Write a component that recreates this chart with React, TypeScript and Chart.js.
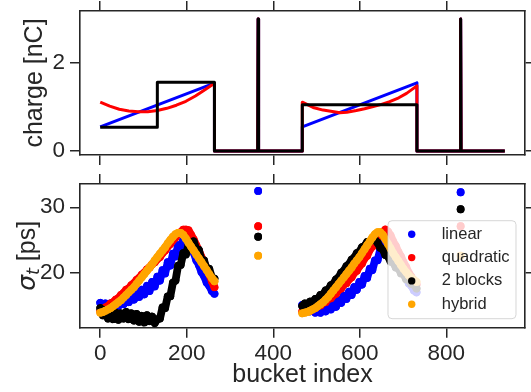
import React, { useEffect, useRef } from "react";
import { Chart, registerables } from "chart.js";

Chart.register(...registerables);

// ---------- data ----------
const xTicks = [0, 200, 400, 600, 800];
const chargeTicks = [0, 2];
const sigmaTicks = [20, 30];
const seriesLabels = ["linear", "quadratic", "2 blocks", "hybrid"];

// top panel: bunch charge [nC] along the bucket index
const linearX = [0, 264, 264, 364, 365, 366, 467, 467, 732, 732, 832, 833, 834, 935];
const linearQ = [0.55, 1.54, 0, 0, 3.0, 0, 0, 0.55, 1.55, 0, 0, 3.0, 0, 0];
const quadX = [0, 22, 44, 66, 88, 110, 132, 154, 176, 198, 220, 242, 264, 264, 364, 365, 366, 467, 467, 492, 515, 540, 554, 570, 592, 611, 631, 650, 669, 690, 708, 732, 732, 832, 833, 834, 935];
const quadQ = [1.11, 1.02, 0.95, 0.91, 0.89, 0.89, 0.92, 0.97, 1.04, 1.13, 1.25, 1.39, 1.54, 0, 0, 3.0, 0, 0, 1.11, 0.99, 0.93, 0.89, 0.87, 0.88, 0.92, 0.96, 1.01, 1.06, 1.12, 1.21, 1.31, 1.48, 0, 0, 3.0, 0, 0];
const blocksX = [0, 132, 132, 264, 264, 364, 365, 366, 467, 467, 732, 732, 832, 833, 834, 935];
const blocksQ = [0.54, 0.54, 1.56, 1.56, 0, 0, 3.0, 0, 0, 1.05, 1.05, 0, 0, 3.0, 0, 0];

// bottom panel: bunch length sigma_t [ps]
const block1Idx = [0, 6, 12, 18, 24, 30, 36, 42, 48, 54, 60, 66, 72, 78, 84, 90, 96, 102, 108, 114, 120, 126, 132, 138, 144, 150, 156, 162, 168, 174, 180, 186, 192, 198, 204, 210, 216, 222, 228, 234, 240, 246, 252, 258, 264];
const block2Idx = [467, 473, 479, 485, 491, 497, 503, 509, 515, 521, 527, 533, 539, 545, 551, 557, 563, 569, 575, 581, 587, 593, 599, 605, 611, 617, 623, 629, 635, 641, 647, 653, 659, 665, 671, 677, 683, 689, 695, 701, 707, 713, 719, 725, 731];
const spikeIdx = [365, 833];

const linear1 = [15.4, 14.6, 15.3, 14.5, 15.3, 14.6, 15.6, 14.9, 15.9, 15.2, 16.2, 15.5, 16.6, 15.9, 17.0, 16.3, 17.4, 16.7, 18.0, 17.2, 18.6, 17.9, 19.4, 18.8, 20.4, 19.9, 21.6, 21.1, 22.9, 22.5, 24.2, 23.9, 25.1, 25.0, 24.9, 23.9, 23.1, 21.9, 21.2, 20.1, 19.5, 18.5, 18.0, 17.2, 16.8];
const linear2 = [15.1, 14.4, 14.8, 14.1, 14.6, 13.9, 14.5, 13.9, 14.6, 14.1, 14.9, 14.4, 15.3, 14.8, 15.9, 15.4, 16.5, 16.0, 17.1, 16.6, 17.8, 17.4, 18.6, 18.2, 19.5, 19.2, 20.6, 20.4, 21.9, 21.9, 23.5, 23.8, 25.0, 24.9, 24.7, 23.5, 22.7, 21.6, 20.9, 19.9, 19.3, 18.4, 18.0, 17.3, 17.0];
const linearSpike = [32.5, 32.3];

const quad1 = [14.1, 14.3, 14.7, 14.9, 15.3, 15.5, 15.9, 16.1, 16.6, 16.9, 17.4, 17.6, 18.1, 18.4, 18.9, 19.2, 19.7, 20.0, 20.5, 20.8, 21.3, 21.6, 22.1, 22.4, 23.0, 23.4, 24.0, 24.4, 25.0, 25.4, 25.9, 26.2, 26.6, 26.6, 26.5, 25.8, 25.1, 24.2, 23.4, 22.4, 21.6, 20.6, 19.8, 18.7, 17.8];
const quad2 = [14.1, 14.0, 14.3, 14.2, 14.6, 14.6, 15.0, 15.0, 15.4, 15.5, 16.0, 16.1, 16.6, 16.8, 17.4, 17.6, 18.2, 18.4, 19.0, 19.3, 20.0, 20.3, 21.0, 21.4, 22.2, 22.6, 23.5, 24.0, 24.9, 25.3, 26.0, 26.2, 26.6, 26.3, 25.7, 24.8, 24.1, 23.2, 22.5, 21.6, 20.9, 20.0, 19.4, 18.7, 18.2];
const quadSpike = [27.1, 27.1];

const blocks1 = [14.6, 13.5, 14.3, 13.0, 14.0, 12.9, 13.9, 12.8, 13.8, 13.0, 14.0, 12.9, 13.8, 12.7, 13.7, 12.5, 13.4, 12.4, 13.5, 12.6, 13.3, 12.3, 12.9, 13.0, 14.7, 14.6, 16.4, 16.4, 18.5, 18.8, 21.1, 21.2, 23.0, 22.8, 24.2, 24.1, 24.8, 23.6, 23.5, 21.9, 21.9, 20.5, 20.6, 19.3, 19.1];
const blocks2 = [14.9, 15.3, 15.0, 15.6, 15.5, 16.0, 16.0, 16.6, 16.7, 17.3, 17.4, 18.1, 18.3, 19.0, 19.3, 20.0, 20.3, 21.0, 21.3, 22.0, 22.3, 23.0, 23.2, 23.9, 24.1, 24.7, 24.8, 25.2, 25.0, 24.6, 23.8, 23.6, 22.7, 22.5, 21.7, 21.6, 20.8, 20.7, 19.9, 19.8, 19.0, 18.9, 18.3, 18.2, 17.6];
const blocksSpike = [25.5, 29.7];

const hybrid1 = [13.9, 14.0, 14.2, 14.4, 14.6, 14.9, 15.2, 15.5, 15.8, 16.2, 16.6, 17.0, 17.4, 17.8, 18.3, 18.8, 19.3, 19.8, 20.3, 20.8, 21.3, 21.9, 22.4, 22.9, 23.4, 23.9, 24.5, 25.0, 25.5, 25.9, 26.1, 26.1, 25.8, 25.2, 24.6, 24.0, 23.4, 22.8, 22.2, 21.6, 21.0, 20.4, 19.8, 19.2, 18.7];
const hybrid2 = [13.8, 13.9, 14.0, 14.2, 14.4, 14.6, 14.9, 15.2, 15.5, 15.9, 16.3, 16.8, 17.3, 17.8, 18.3, 18.8, 19.3, 19.8, 20.3, 20.8, 21.4, 21.9, 22.4, 23.0, 23.6, 24.2, 24.8, 25.4, 25.9, 26.2, 26.2, 25.8, 25.1, 24.4, 23.7, 23.0, 22.4, 21.8, 21.2, 20.6, 20.1, 19.6, 19.2, 18.9, 18.6];
const hybridSpike = [22.6, 22.6];

// ---------- style ----------
const COLORS = ["#0000ff", "#ff0000", "#000000", "#ffa500"];
const INK = "#262626";
const FONT = "'Liberation Sans', Arial, Helvetica, sans-serif";
const X_MIN = -46.75;
const X_MAX = 981.75;
const DOT_R = 3.9;

const pts = (xs: number[], ys: number[]) => xs.map((x, i) => ({ x, y: ys[i] }));
const gap = (x: number) => ({ x, y: null });
const setTicks = (vals: number[]) => (axis: any) => {
  axis.ticks = vals.map((v) => ({ value: v }));
};
const noPad = (a: any) => {
  a.paddingTop = 0; a.paddingBottom = 0; a.paddingLeft = 0; a.paddingRight = 0;
};

const grid = { drawOnChartArea: false, drawTicks: true, tickLength: 10, color: INK, tickColor: INK, tickWidth: 1.5, lineWidth: 1.5 };
const border = { display: true, color: INK, width: 1.6 };

function frameAxes(yMin: number, yMax: number, yTickVals: number[], sizes: any, showXLabels: boolean) {
  return {
    x: {
      type: "linear", position: "bottom", min: X_MIN, max: X_MAX,
      afterBuildTicks: setTicks(xTicks),
      afterFit: (a: any) => { a.height = sizes.bottom; noPad(a); },
      ticks: { display: showXLabels, color: INK, font: { size: 22.5, family: FONT }, padding: 3, maxRotation: 0 },
      title: showXLabels
        ? { display: true, text: "bucket index", color: INK, font: { size: 25, family: FONT }, padding: { top: 0, bottom: 2 } }
        : { display: false },
      grid, border,
    },
    xTop: {
      type: "linear", axis: "x", position: "top", min: X_MIN, max: X_MAX,
      afterBuildTicks: setTicks(xTicks),
      afterFit: (a: any) => { a.height = sizes.top; noPad(a); },
      ticks: { display: false },
      grid, border,
    },
    y: {
      type: "linear", position: "left", min: yMin, max: yMax,
      afterBuildTicks: setTicks(yTickVals),
      afterFit: (a: any) => { a.width = 80; noPad(a); },
      ticks: { color: INK, font: { size: 22.5, family: FONT }, padding: 5 },
      title: sizes.yTitle
        ? { display: true, text: sizes.yTitle, color: INK, font: { size: 25, family: FONT }, padding: { top: 20, bottom: 0 } }
        : { display: false },
      grid, border,
    },
    yRight: {
      type: "linear", axis: "y", position: "right", min: yMin, max: yMax,
      afterBuildTicks: setTicks(yTickVals),
      afterFit: (a: any) => { a.width = 6; noPad(a); },
      ticks: { display: false },
      grid, border,
    },
  };
}

const sigmaTitlePlugin = {
  id: "sigmaTitle",
  afterDraw(chart: any) {
    const { ctx, chartArea } = chart;
    const cy = (chartArea.top + chartArea.bottom) / 2;
    ctx.save();
    ctx.translate(28, cy);
    ctx.rotate(-Math.PI / 2);
    ctx.fillStyle = INK;
    ctx.textBaseline = "alphabetic";
    const fMain = `italic 25px 'DejaVu Sans'`;
    const fSub = `italic 17.5px 'DejaVu Sans'`;
    const fRest = `25px ${FONT}`;
    ctx.font = fMain; const w1 = ctx.measureText("σ").width;
    ctx.font = fSub; const w2 = ctx.measureText("t").width;
    ctx.font = fRest; const w3 = ctx.measureText(" [ps]").width;
    let x = -(w1 + w2 + w3) / 2;
    const base = 7;
    ctx.font = fMain; ctx.fillText("σ", x, base); x += w1;
    ctx.font = fSub; ctx.fillText("t", x, base + 4); x += w2;
    ctx.font = fRest; ctx.fillText(" [ps]", x, base);
    ctx.restore();
  },
};

const legendPlugin = {
  id: "boxLegend",
  afterDraw(chart: any) {
    const { ctx, chartArea } = chart;
    const right = chartArea.right - 9;
    const left = right - 128;
    const bottom = chartArea.bottom - 9;
    const top = bottom - 98;
    const r = 4;
    ctx.save();
    ctx.beginPath();
    ctx.moveTo(left + r, top);
    ctx.arcTo(right, top, right, bottom, r);
    ctx.arcTo(right, bottom, left, bottom, r);
    ctx.arcTo(left, bottom, left, top, r);
    ctx.arcTo(left, top, right, top, r);
    ctx.closePath();
    ctx.fillStyle = "rgba(255,255,255,0.8)";
    ctx.fill();
    ctx.strokeStyle = "rgba(204,204,204,0.8)";
    ctx.lineWidth = 1;
    ctx.stroke();
    ctx.font = `16.5px ${FONT}`;
    ctx.textBaseline = "middle";
    ctx.textAlign = "left";
    seriesLabels.forEach((lab, i) => {
      const y = top + 13.6 + i * 23.3;
      ctx.beginPath();
      ctx.arc(left + 23.7, y, 3.7, 0, Math.PI * 2);
      ctx.fillStyle = COLORS[i];
      ctx.fill();
      ctx.fillStyle = INK;
      ctx.fillText(lab, left + 53.7, y);
    });
    ctx.restore();
  },
};

function TopChart() {
  const ref = useRef<HTMLCanvasElement>(null);
  useEffect(() => {
    const line = (label: string, xs: number[], ys: number[], color: string, order: number) => ({
      label, data: pts(xs, ys), borderColor: color, backgroundColor: color, borderWidth: 3,
      pointRadius: 0, tension: 0, order, borderJoinStyle: "round", borderCapStyle: "butt", fill: false,
    });
    const chart = new Chart(ref.current!, {
      type: "line",
      data: {
        datasets: [
          line(seriesLabels[0], linearX, linearQ, COLORS[0], 2),
          line(seriesLabels[1], quadX, quadQ, COLORS[1], 1),
          line(seriesLabels[2], blocksX, blocksQ, COLORS[2], 0),
        ],
      },
      options: {
        animation: false, responsive: false, maintainAspectRatio: false,
        layout: { padding: 0 },
        plugins: { legend: { display: false }, tooltip: { enabled: false } },
        scales: frameAxes(-0.09, 3.18, chargeTicks, { top: 11, bottom: 15, yTitle: "charge [nC]" }, false) as any,
      },
    } as any);
    return () => chart.destroy();
  }, []);
  return <canvas ref={ref} width={531} height={170} style={{ position: "absolute", left: 0, top: 0, width: 531, height: 170 }} />;
}

function BottomChart() {
  const ref = useRef<HTMLCanvasElement>(null);
  useEffect(() => {
    // dense scatter: markers joined by a stroke as wide as a marker, so that
    // consecutive buckets merge into one band as in the reference
    const sc = (i: number, b1: number[], sp: number[], b2: number[], order: number) => ({
      label: seriesLabels[i],
      data: [
        ...pts(block1Idx, b1), gap(300), { x: spikeIdx[0], y: sp[0] }, gap(420),
        ...pts(block2Idx, b2), gap(780), { x: spikeIdx[1], y: sp[1] },
      ],
      backgroundColor: COLORS[i], borderColor: COLORS[i],
      showLine: true, spanGaps: false, borderWidth: DOT_R * 2,
      borderJoinStyle: "round", borderCapStyle: "round", tension: 0,
      pointBorderWidth: 0, pointRadius: DOT_R, pointHoverRadius: DOT_R, order,
    });
    const chart = new Chart(ref.current!, {
      type: "scatter",
      data: {
        datasets: [
          sc(0, linear1, linearSpike, linear2, 3),
          sc(1, quad1, quadSpike, quad2, 2),
          sc(2, blocks1, blocksSpike, blocks2, 1),
          sc(3, hybrid1, hybridSpike, hybrid2, 0),
        ],
      },
      options: {
        animation: false, responsive: false, maintainAspectRatio: false,
        layout: { padding: 0 },
        plugins: { legend: { display: false }, tooltip: { enabled: false } },
        scales: frameAxes(11.6, 33.56, sigmaTicks, { top: 14, bottom: 64.3, yTitle: null }, true) as any,
      },
      plugins: [sigmaTitlePlugin, legendPlugin],
    } as any);
    return () => chart.destroy();
  }, []);
  return <canvas ref={ref} width={531} height={222} style={{ position: "absolute", left: 0, top: 170, width: 531, height: 222 }} />;
}

export default function App() {
  return (
    <div style={{ position: "fixed", left: 0, top: 0, width: 531, height: 392, background: "#ffffff", overflow: "hidden", fontFamily: FONT }}>
      <TopChart />
      <BottomChart />
    </div>
  );
}
